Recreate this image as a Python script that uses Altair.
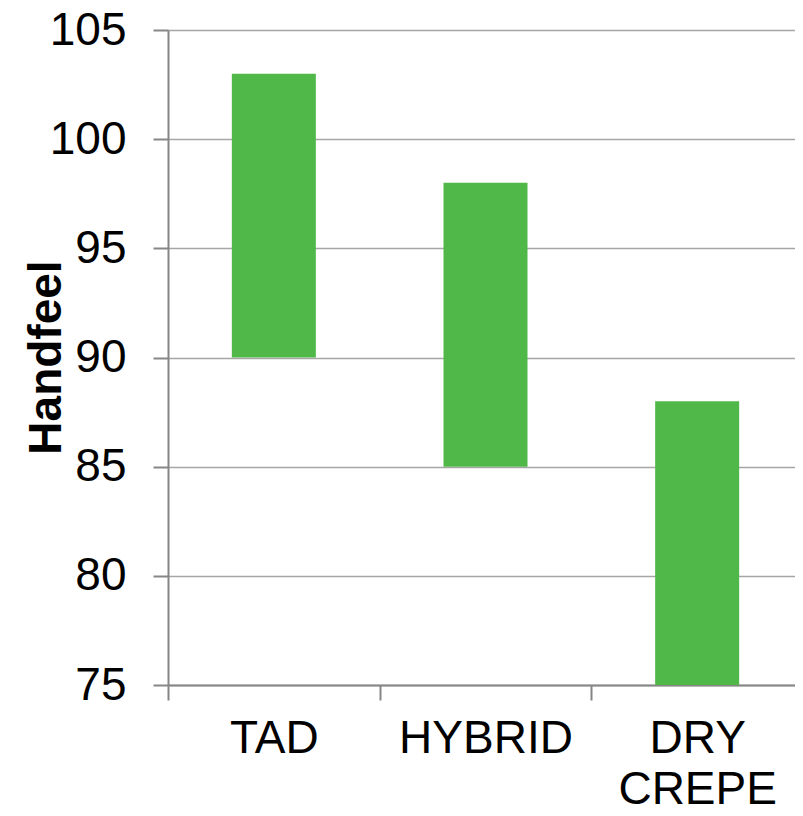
import altair as alt
import pandas as pd

categories = ["TAD", "HYBRID", "DRY CREPE"]
low_values = [90, 85, 75]
high_values = [103, 98, 88]
y_ticks = [75, 80, 85, 90, 95, 100, 105]

df = pd.DataFrame({"cat": categories, "low": low_values, "high": high_values})

FONT = "Liberation Sans"

chart = alt.Chart(df).mark_bar(color="#50b848", size=84).encode(
    x=alt.X("cat:N", sort=categories, title=None,
            scale=alt.Scale(paddingInner=0, paddingOuter=0),
            axis=alt.Axis(labelAngle=0, labelFontSize=46, labelFont=FONT, labelColor="#000000",
                          labelExpr="split(datum.label, ' ')", labelLineHeight=51,
                          labelPadding=16, tickSize=15, tickColor="#868686", tickWidth=2,
                          domainColor="#868686", domainWidth=2, bandPosition=0, tickBand="extent",
                          labelBaseline="top")),
    y=alt.Y("low:Q", title="Handfeel",
            scale=alt.Scale(domain=[75, 105], nice=False, zero=False),
            axis=alt.Axis(values=y_ticks, labelFontSize=46, labelFont=FONT, labelColor="#000000",
                          labelPadding=27, tickSize=15, tickColor="#868686", tickWidth=2,
                          domainColor="#868686", domainWidth=2, gridColor="#a6a6a6", gridWidth=1.5,
                          titleFontSize=46, titleFont=FONT, titleFontWeight="bold", titleColor="#000000",
                          titleAngle=270, titleBaseline="alphabetic", titleAlign="center",
                          titleX=-108, titleY=327)),
    y2="high:Q",
).properties(
    width=635,
    height=655,
    autosize=alt.AutoSizeParams(type="none"),
    padding={"left": 160, "top": 22, "right": -8, "bottom": 123},
).configure_view(stroke=None)

chart.save("out.html", embed_options={"renderer": "svg", "actions": False})
